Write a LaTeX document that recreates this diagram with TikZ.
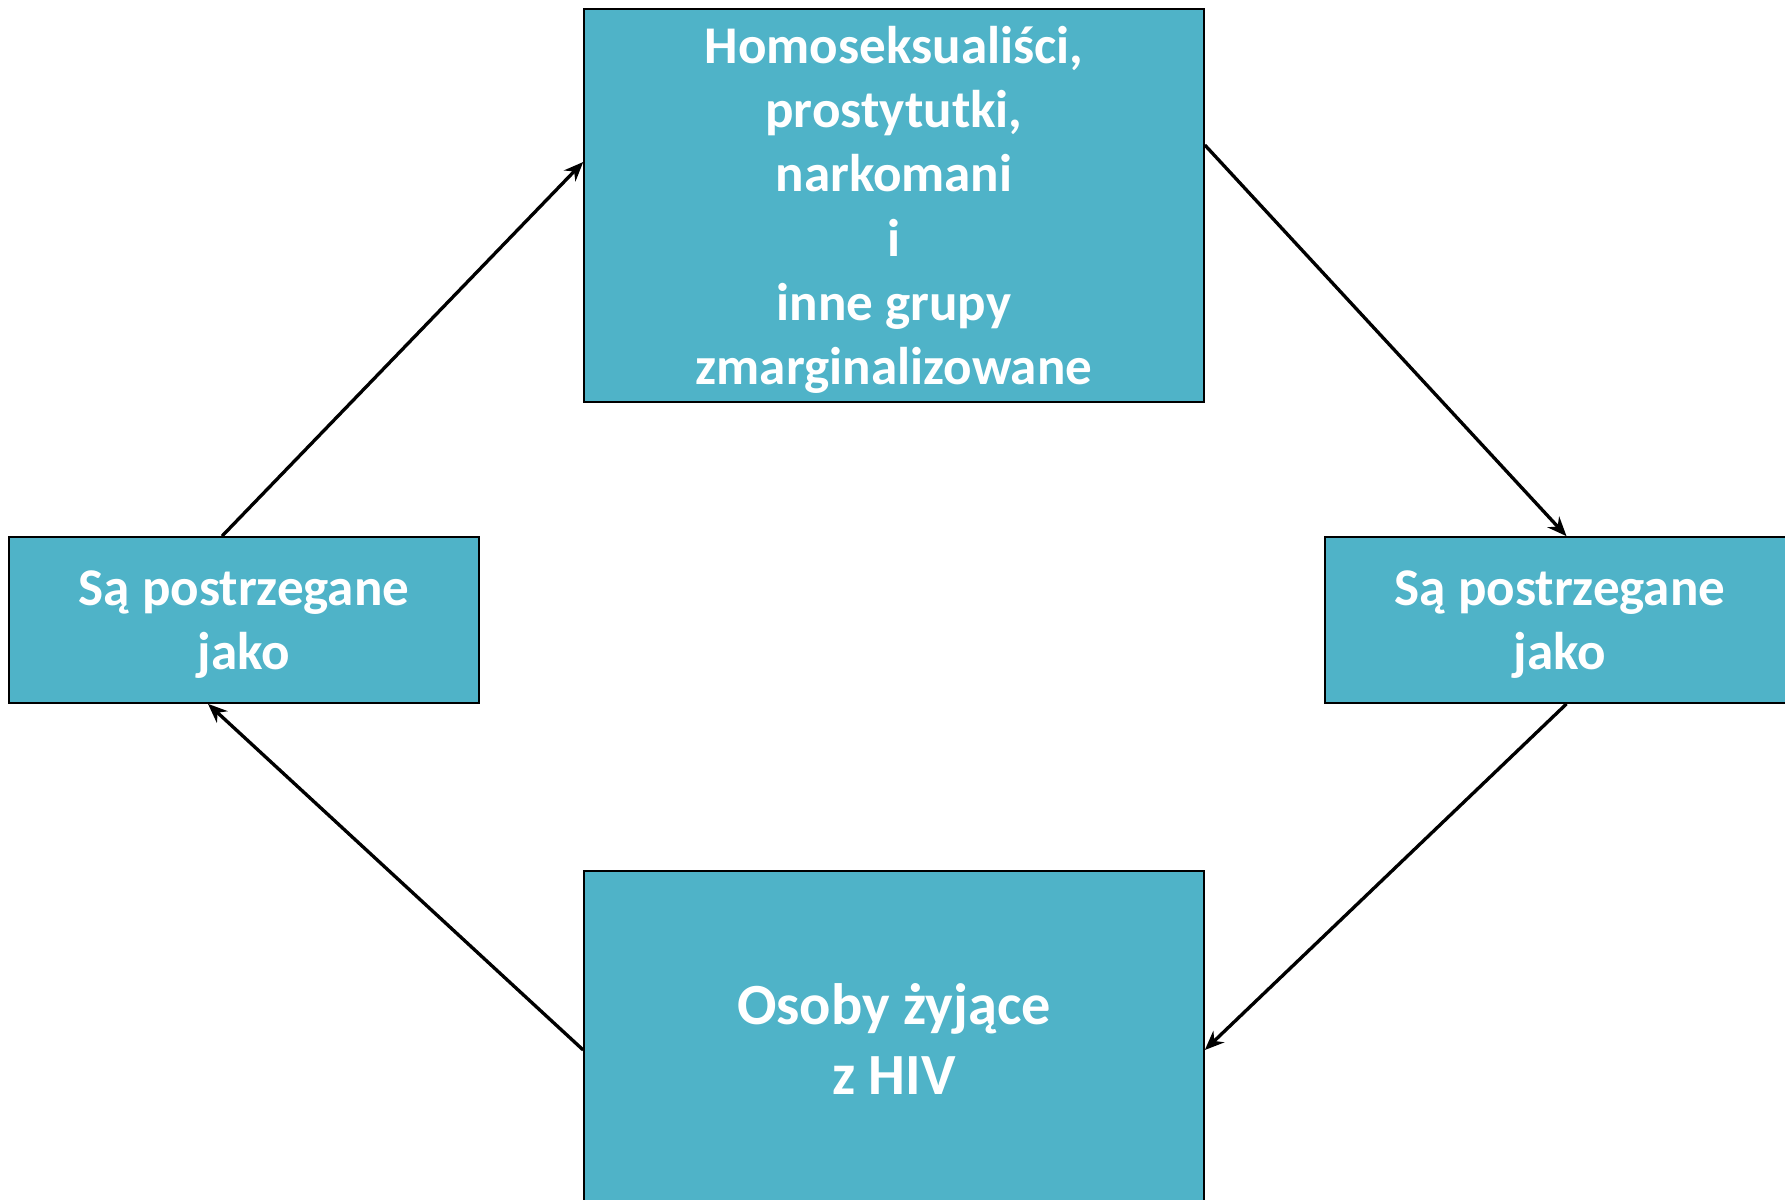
\documentclass[tikz,border=0pt]{standalone}
\usepackage{fontspec}
\setmainfont{Carlito}
\usetikzlibrary{arrows.meta}
\definecolor{boxblue}{RGB}{79,179,200}
\tikzset{
  box/.style={draw=black, fill=boxblue, text=white, align=center, inner sep=0pt, line width=1pt, text depth=0pt, font=\bfseries\fontsize{30.2}{36.6}\selectfont},
  arr/.style={line width=1.9pt, -{Stealth[length=11pt,width=9pt]}}
}
\begin{document}
\begin{tikzpicture}[x=0.02cm,y=-0.02cm]

\clip (0,0) rectangle (1785,1200);

\node[box, minimum width=12.4cm, minimum height=7.86cm] (groups) at (894,205.5) {Homoseksualiści,\\prostytutki,\\narkomani\\i\\inne grupy\\zmarginalizowane};
\node[box, minimum width=9.4cm, minimum height=3.32cm] (left) at (244,620) {Są postrzegane\\jako};
\node[box, minimum width=9.4cm, minimum height=3.32cm] (right) at (1560,620) {Są postrzegane\\jako};
\node[box, minimum width=12.4cm, minimum height=6.72cm, font=\bfseries\fontsize{33.2}{39.6}\selectfont] (hiv) at (894,1039) {Osoby żyjące\\z HIV};

\draw[arr] ([xshift=-0.44cm]left.north) -- ([yshift=0.87cm]groups.west);
\draw[arr] ([yshift=1.21cm]groups.east) -- ([xshift=0.13cm]right.north);
\draw[arr] ([xshift=0.13cm]right.south) -- ([yshift=-0.22cm]hiv.east);
\draw[arr] ([yshift=-0.22cm]hiv.west) -- ([xshift=-0.72cm]left.south);

\end{tikzpicture}
\end{document}
